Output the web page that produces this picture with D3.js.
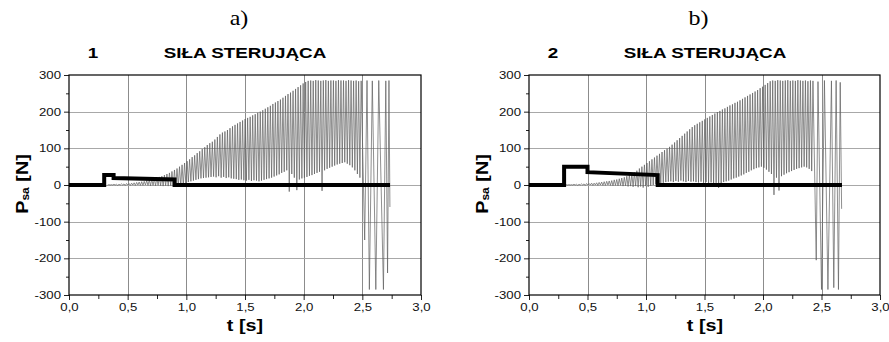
<!DOCTYPE html>
<html>
<head>
<meta charset="utf-8">
<script src="https://cdn.jsdelivr.net/npm/d3@7"></script>
<style>
  body { margin: 0; background: #fff; }
  svg { display: block; font-family: "Liberation Sans", Arial, sans-serif; }
</style>
</head>
<body>
<svg id="chart" width="889" height="342"></svg>
<script>
// axes
const xTicks = [0, 0.5, 1.0, 1.5, 2.0, 2.5, 3.0];
const xTickLabels = ["0,0", "0,5", "1,0", "1,5", "2,0", "2,5", "3,0"];
const xMinor = [0.25, 0.75, 1.25, 1.75, 2.25, 2.75];
const yTicks = [-300, -200, -100, 0, 100, 200, 300];
const yMinor = [-250, -150, -50, 50, 150, 250];

// control force (thick black), panel a) and b)
const ctlAT = [0, 0.3, 0.3, 0.38, 0.38, 0.9, 0.9, 2.736];
const ctlAV = [0, 0, 27, 27, 19, 15, 0, 0];
const ctlBT = [0, 0.3, 0.3, 0.5, 0.5, 1.1, 1.1, 2.675];
const ctlBV = [0, 0, 50, 50, 35, 27, 0, 0];

// oscillation, panel a): one peak + one trough per cycle, cycle grid
const oscAStart = 0.34, oscAPeriod = 0.0215;
const oscAPeaks = [
  1, 1, 2, 2, 2, 3, 3, 4, 4, 5,
  6, 7, 8, 9, 10, 12, 14, 16, 17, 19,
  22, 24, 27, 30, 33, 37, 41, 45, 50, 55,
  60, 65, 70, 76, 81, 87, 92, 98, 103, 109,
  114, 118, 124, 131, 138, 143, 146, 150, 155, 160,
  164, 168, 172, 176, 180, 183, 186, 190, 193, 197,
  200, 204, 208, 212, 216, 221, 225, 229, 233, 238,
  243, 248, 252, 257, 262, 267, 272, 277, 281, 284,
  285, 284, 286, 285, 284, 285, 286, 284, 285, 285,
  284, 286, 285, 285, 284, 286, 285, 284, 285, 283
];
const oscATroughs = [
  0, 0, 0, -1, 0, 0, -1, 0, -1, 0,
  -1, 0, -1, -1, 0, -1, -2, -1, -2, -1,
  -2, -3, -2, -3, -2, -3, -4, -2, -3, -2,
  5, 8, 10, 12, 14, 16, 18, 19, 20, 21,
  22, 23, 21, 24, 20, 22, 19, 21, 18, 17,
  16, 14, 15, 13, 12, 14, 11, 13, 12, 10,
  12, 14, 16, 18, 20, 23, 26, 29, 33, 36,
  40, -18, 30, 20, -14, 15, 18, 20, 22, 25,
  27, 30, 33, 36, -16, 40, 44, 47, 50, 53,
  56, 58, 60, 62, 58, 54, 48, 40, 30, 20
];
// final large swings, panel a)
const swingAT = [2.49, 2.52, 2.54, 2.56, 2.585, 2.615, 2.64, 2.68, 2.70, 2.715, 2.727, 2.735];
const swingAV = [284, -150, 285, -285, 284, -285, 285, -285, 284, -240, 285, -60];

// oscillation, panel b)
const oscBStart = 0.32, oscBPeriod = 0.0215;
const oscBPeaks = [
  1, 1, 1, 2, 2, 2, 3, 3, 4, 4,
  5, 5, 6, 7, 8, 9, 10, 11, 12, 14,
  15, 17, 19, 21, 24, 27, 30, 34, 39, 45,
  50, 55, 60, 65, 70, 75, 80, 85, 90, 95,
  99, 104, 110, 116, 122, 128, 134, 140, 146, 152,
  158, 163, 167, 171, 175, 179, 183, 187, 191, 195,
  199, 202, 206, 209, 213, 217, 220, 224, 227, 231,
  235, 239, 243, 247, 251, 255, 259, 264, 268, 273,
  278, 283, 285, 284, 286, 285, 284, 285, 286, 284,
  285, 284, 286, 285, 284, 285, 283, 285
];
const oscBTroughs = [
  0, 0, 0, 0, -1, 0, 0, -1, 0, 0,
  -1, 0, -1, 0, -1, -1, 0, -1, -2, -1,
  -2, -1, -3, -2, -4, -3, -5, -3, -6, -4,
  -7, -3, -5, -2, 0, 2, 4, 5, 6, 8,
  9, 10, 8, 11, 9, 12, 10, 8, 11, 9,
  10, 8, 7, 9, 6, 8, 5, 7, 4, 6,
  -8, 5, 8, 10, 12, 15, 18, 20, 23, 26,
  29, 33, 36, 40, 43, 46, 48, 50, 47, 42,
  36, 30, -27, 20, -15, 24, 28, 32, 35, 38,
  41, 44, 46, 48, 50, 48, 44, 38
];
const swingBT = [2.427, 2.455, 2.47, 2.50, 2.525, 2.555, 2.585, 2.605, 2.625, 2.645, 2.66, 2.672];
const swingBV = [284, -205, 282, -285, 285, -285, 284, -280, 285, -285, 280, -65];

const letters = ["a)", "b)"];
const numbers = ["1", "2"];
const title = "SIŁA STERUJĄCA";

// text in the source is drawn wider than normal
const SX = 1.2;

function oscPoints(start, period, peaks, troughs, swT, swV) {
  const pts = [[start - period / 2, 0]];
  peaks.forEach((p, i) => {
    pts.push([start + i * period, p]);
    pts.push([start + (i + 0.5) * period, troughs[i]]);
  });
  swT.forEach((t, i) => pts.push([t, swV[i]]));
  return pts;
}

const panels = [
  { x0: 69, x1: 421, ctl: ctlAT.map((t, i) => [t, ctlAV[i]]),
    osc: oscPoints(oscAStart, oscAPeriod, oscAPeaks, oscATroughs, swingAT, swingAV) },
  { x0: 529, x1: 880, ctl: ctlBT.map((t, i) => [t, ctlBV[i]]),
    osc: oscPoints(oscBStart, oscBPeriod, oscBPeaks, oscBTroughs, swingBT, swingBV) }
];

const svg = d3.select("#chart");
const plotTop = 75, plotBottom = 295;

panels.forEach((p, k) => {
  const x = d3.scaleLinear().domain([0, 3]).range([p.x0, p.x1]);
  const y = d3.scaleLinear().domain([-300, 300]).range([plotBottom, plotTop]);
  const g = svg.append("g");

  // grid
  g.append("g").selectAll("line")
    .data(xTicks.slice(1, -1))
    .join("line")
    .attr("x1", d => Math.round(x(d)) + 0.5).attr("x2", d => Math.round(x(d)) + 0.5)
    .attr("y1", plotTop).attr("y2", plotBottom)
    .attr("stroke", "#8c8c8c").attr("stroke-width", 1);
  g.append("g").selectAll("line")
    .data(yTicks.slice(1, -1))
    .join("line")
    .attr("x1", p.x0).attr("x2", p.x1)
    .attr("y1", d => Math.round(y(d)) + 0.5).attr("y2", d => Math.round(y(d)) + 0.5)
    .attr("stroke", "#a8a8a8").attr("stroke-width", 1);

  // axes, ticks outward
  const xMin = g.append("g").attr("transform", `translate(0,${plotBottom})`)
    .call(d3.axisBottom(x).tickValues(xMinor).tickSize(4).tickFormat(""));
  const xMaj = g.append("g").attr("transform", `translate(0,${plotBottom})`)
    .call(d3.axisBottom(x).tickValues(xTicks).tickSize(5).tickPadding(3)
      .tickFormat((d, i) => xTickLabels[i]));
  const yMin = g.append("g").attr("transform", `translate(${p.x0},0)`)
    .call(d3.axisLeft(y).tickValues(yMinor).tickSize(3).tickFormat(""));
  const yMaj = g.append("g").attr("transform", `translate(${p.x0},0)`)
    .call(d3.axisLeft(y).tickValues(yTicks).tickSize(5).tickPadding(8 / SX - 5)
      .tickFormat(d3.format("d")));
  [xMin, xMaj, yMin, yMaj].forEach(a => {
    a.select(".domain").remove();
    a.selectAll("line").attr("stroke", "#222");
    a.selectAll("text")
      .attr("font-family", "'Liberation Sans', Arial, sans-serif")
      .attr("font-size", 11).attr("fill", "#111")
      .attr("transform", `scale(${SX},1)`);
  });
  yMaj.selectAll("text").attr("x", -8 / SX).text(d => String(d));

  // oscillation
  const line = d3.line().x(d => x(d[0])).y(d => y(d[1]));
  g.append("path")
    .attr("d", line(p.osc))
    .attr("fill", "none")
    .attr("stroke", "#5e5e5e")
    .attr("stroke-width", 0.7);

  // control force
  g.append("path")
    .attr("d", line(p.ctl))
    .attr("fill", "none")
    .attr("stroke", "#000")
    .attr("stroke-width", 4)
    .attr("stroke-linejoin", "miter");

  // frame
  g.append("rect")
    .attr("x", p.x0).attr("y", plotTop)
    .attr("width", p.x1 - p.x0).attr("height", plotBottom - plotTop)
    .attr("fill", "none").attr("stroke", "#000").attr("stroke-width", 1.2);

  const mid = (p.x0 + p.x1) / 2;

  // letter a) / b)
  svg.append("text")
    .attr("transform", `translate(${mid - 6},25) scale(${SX},1)`)
    .attr("text-anchor", "middle")
    .attr("font-family", "'Liberation Serif', 'Times New Roman', serif")
    .attr("font-size", 20)
    .text(letters[k]);

  // number + title
  svg.append("text")
    .attr("transform", `translate(${p.x0 + 24},58) scale(1.3,1)`)
    .attr("text-anchor", "middle")
    .attr("font-weight", "bold").attr("font-size", 14.5)
    .text(numbers[k]);
  svg.append("text")
    .attr("transform", `translate(${p.x0 + 176},58) scale(1.3,1)`)
    .attr("text-anchor", "middle")
    .attr("font-weight", "bold").attr("font-size", 14.5)
    .text(title);

  // axis titles
  svg.append("text")
    .attr("transform", `translate(${p.x0 + 176},331) scale(${SX},1)`)
    .attr("text-anchor", "middle")
    .attr("font-weight", "bold").attr("font-size", 16.5)
    .text("t [s]");
  const yl = svg.append("text")
    .attr("transform", `translate(${p.x0 - 41},184) rotate(-90) scale(${SX},1)`)
    .attr("text-anchor", "middle")
    .attr("font-weight", "bold").attr("font-size", 16.5);
  yl.append("tspan").text("P");
  yl.append("tspan").attr("font-size", 10).attr("dy", 1).text("sa");
  yl.append("tspan").attr("dy", -1).text(" [N]");
});
</script>
</body>
</html>
